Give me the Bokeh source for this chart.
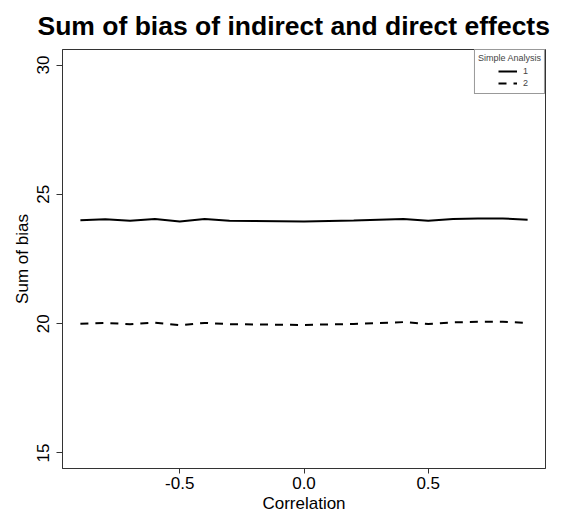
from bokeh.plotting import figure
from bokeh.models import Range1d, FixedTicker, Legend, LegendItem, Title, PrintfTickFormatter
from bokeh.embed import file_html
from bokeh.resources import INLINE

# ---- data ----
correlation = [-0.9, -0.8, -0.7, -0.6, -0.5, -0.4, -0.3, -0.2, -0.1, 0.0,
               0.1, 0.2, 0.3, 0.4, 0.5, 0.6, 0.7, 0.8, 0.9]
analysis_1 = [24.00, 24.04, 23.98, 24.05, 23.95, 24.05, 23.98, 23.97, 23.96, 23.95,
              23.97, 23.99, 24.02, 24.05, 23.98, 24.05, 24.07, 24.07, 24.02]
analysis_2 = [20.00, 20.03, 19.98, 20.04, 19.94, 20.03, 19.98, 19.97, 19.96, 19.95,
              19.97, 19.99, 20.02, 20.06, 19.99, 20.05, 20.07, 20.07, 20.03]
series_labels = ["1", "2"]
x_ticks = [-0.5, 0.0, 0.5]
y_ticks = [15, 20, 25, 30]
y_limits = [15, 30]

FONT = "Liberation Sans"

xmin, xmax = min(correlation), max(correlation)
xpad = 0.04 * (xmax - xmin)
ypad = 0.04 * (y_limits[1] - y_limits[0])

p = figure(width=559, height=517,
           x_range=Range1d(xmin - xpad, xmax + xpad),
           y_range=Range1d(y_limits[0] - ypad, y_limits[1] + ypad),
           output_backend="svg", toolbar_location=None,
           min_border_left=62, min_border_right=14,
           min_border_top=48, min_border_bottom=49)

r1 = p.line(correlation, analysis_1, line_color="black", line_width=2)
r2 = p.line(correlation, analysis_2, line_color="black", line_width=2, line_dash="8 7")

p.xgrid.visible = False
p.ygrid.visible = False
p.outline_line_color = "#333333"
p.outline_line_width = 1
p.background_fill_color = "white"
p.border_fill_color = "white"

p.xaxis.ticker = FixedTicker(ticks=x_ticks)
p.yaxis.ticker = FixedTicker(ticks=y_ticks)
p.xaxis.formatter = PrintfTickFormatter(format="%.1f")
p.yaxis.formatter = PrintfTickFormatter(format="%d")
for ax in (p.xaxis[0], p.yaxis[0]):
    ax.axis_line_color = "#333333"
    ax.major_tick_line_color = "#333333"
    ax.minor_tick_line_color = None
    ax.major_tick_in = 0
    ax.major_label_text_font = FONT
    ax.major_label_text_font_size = "17px"
    ax.major_label_text_color = "black"
    ax.axis_label_text_font = FONT
    ax.axis_label_text_font_size = "17px"
    ax.axis_label_text_font_style = "normal"
    ax.axis_label_text_color = "black"

p.xaxis.axis_label = "Correlation"
p.yaxis.axis_label = "Sum of bias"
p.xaxis.major_tick_out = 5
p.yaxis.major_tick_out = 6
p.xaxis.major_label_standoff = 3
p.xaxis.axis_label_standoff = 2
p.yaxis.major_label_standoff = 7
p.yaxis.axis_label_standoff = 3
p.yaxis.major_label_orientation = "vertical"

title = Title(text="Sum of bias of indirect and direct effects", align="left",
              offset=-25, standoff=17, text_font=FONT, text_font_size="26.5px",
              text_font_style="bold", text_color="black")
p.add_layout(title, "above")

# legend box with title (items invisible, only reserve the rows)
legend_box = Legend(
    items=[LegendItem(label=series_labels[0], renderers=[r1]),
           LegendItem(label=series_labels[1], renderers=[r2])],
    title="Simple Analysis", location="top_right", margin=0, padding=3,
    spacing=0, glyph_width=0, glyph_height=12, label_height=12,
    label_standoff=0, label_text_alpha=0, label_text_font=FONT,
    label_text_font_size="9px", title_text_font=FONT, title_text_font_size="9px",
    title_text_font_style="normal", title_standoff=3,
    border_line_color="#333333", border_line_width=1,
    background_fill_color="white", background_fill_alpha=1)
p.add_layout(legend_box, "center")

# centred legend entries
legend_items = Legend(
    items=[LegendItem(label=series_labels[0], renderers=[r1]),
           LegendItem(label=series_labels[1], renderers=[r2])],
    location=(436, 379), margin=0, padding=0, spacing=0,
    glyph_width=19, glyph_height=12, label_height=12, label_standoff=6,
    label_text_font=FONT, label_text_font_size="9px",
    border_line_color=None, background_fill_alpha=0)
p.add_layout(legend_items, "center")

open("out.html", "w").write(file_html(p, INLINE))
